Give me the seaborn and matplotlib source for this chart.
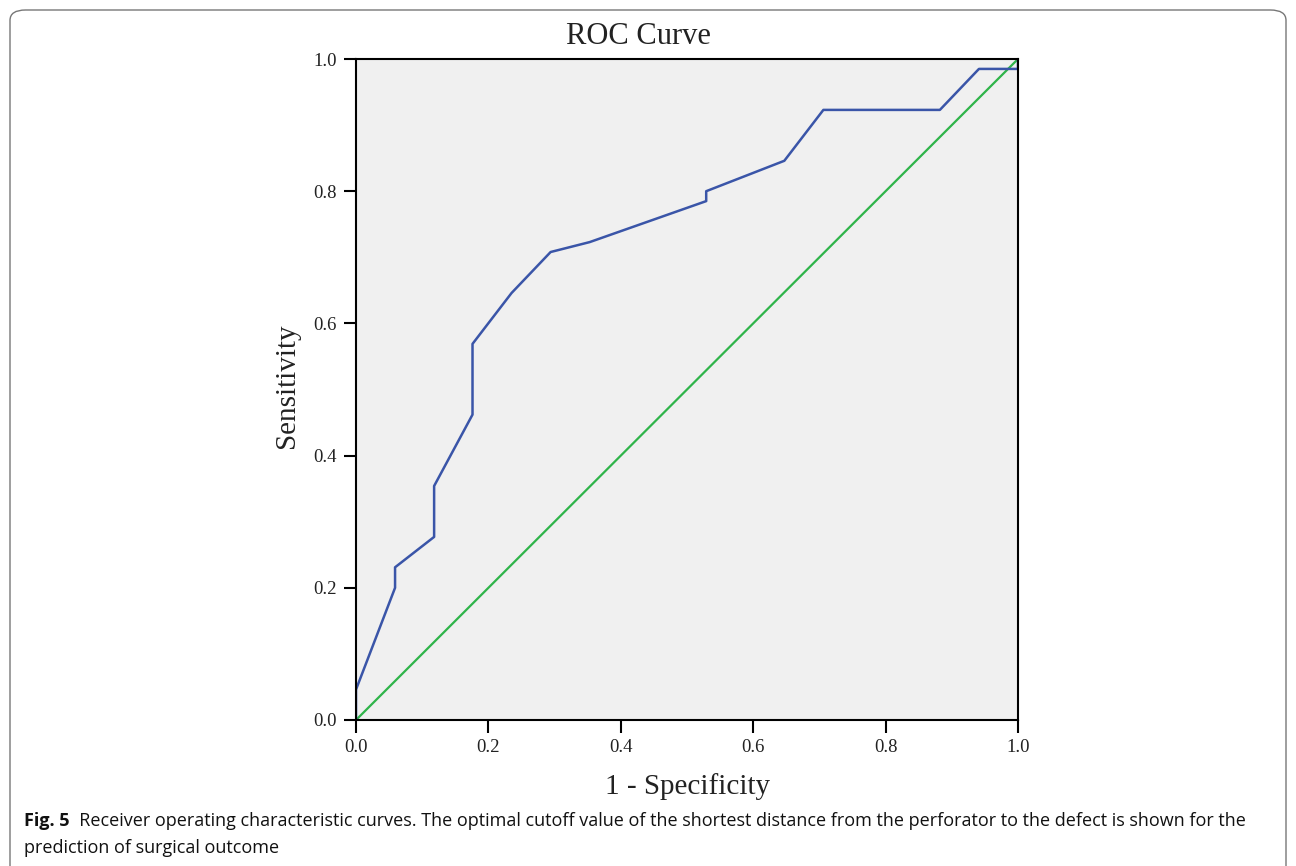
import numpy as np
import pandas as pd
import seaborn as sns
import matplotlib.pyplot as plt
from matplotlib.patches import FancyBboxPatch

# ROC curve points (1 - specificity, sensitivity)
fpr = [0.0, 0.0, 0.059, 0.059, 0.118, 0.118, 0.176, 0.176, 0.235, 0.294,
       0.353, 0.529, 0.529, 0.647, 0.706, 0.882, 0.941, 1.0, 1.0]
tpr = [0.0, 0.046, 0.2, 0.231, 0.277, 0.354, 0.462, 0.569, 0.646, 0.708,
       0.723, 0.785, 0.8, 0.846, 0.923, 0.923, 0.985, 0.985, 1.0]
ref_line = [0.0, 1.0]
ticks = [0.0, 0.2, 0.4, 0.6, 0.8, 1.0]
tick_labels = ["0.0", "0.2", "0.4", "0.6", "0.8", "1.0"]

title = "ROC Curve"
xlabel = "1 - Specificity"
ylabel = "Sensitivity"
cap_bold = "Fig. 5"
cap_text = ("  Receiver operating characteristic curves. The optimal cutoff value of the shortest distance "
            "from the perforator to the defect is shown for the")
cap_text2 = "prediction of surgical outcome"

sns.set_theme(style="ticks")
plt.rcParams["font.family"] = ["Liberation Serif", "DejaVu Serif"]

W, H = 1296, 866
fig = plt.figure(figsize=(W / 100, H / 100), dpi=100)

# rounded frame around the figure panel
frame = FancyBboxPatch((10 / W, -20 / H), 1276 / W, 876 / H,
                       boxstyle="round,pad=0,rounding_size=0.012",
                       transform=fig.transFigure, facecolor="none",
                       edgecolor="#777777", linewidth=1.0)
fig.patches.append(frame)

ax = fig.add_axes([356 / W, 1 - 720 / H, 662 / W, 661 / H])
ax.set_facecolor("#f0f0f0")

curve = pd.DataFrame({"fpr": fpr, "tpr": tpr})
diag = pd.DataFrame({"x": ref_line, "y": ref_line})
sns.lineplot(data=diag, x="x", y="y", ax=ax, color="#2fb44a", lw=1.6,
             sort=False, estimator=None)
sns.lineplot(data=curve, x="fpr", y="tpr", ax=ax, color="#3a55a8", lw=1.8,
             sort=False, estimator=None)

ax.set_xlim(0, 1)
ax.set_ylim(0, 1)
ax.set_xticks(ticks)
ax.set_xticklabels(tick_labels)
ax.set_yticks(ticks)
ax.set_yticklabels(tick_labels)
ax.tick_params(direction="out", length=9, width=1.5, color="black",
               labelsize=13.5, pad=5, labelcolor="#222222")
for s in ax.spines.values():
    s.set_color("black")
    s.set_linewidth(1.5)
ax.set_xlabel("")
ax.set_ylabel("")

fig.text(638 / W, 1 - 37 / H, title, ha="center", va="center", fontsize=22,
         color="#222222")
fig.text(688 / W, 1 - 787 / H, xlabel, ha="center", va="center", fontsize=21,
         color="#222222")
fig.text(287 / W, 1 - 386 / H, ylabel, ha="center", va="center", fontsize=21,
         rotation=90, color="#222222")

# caption
cap_font = ["Open Sans", "DejaVu Sans"]
t1 = fig.text(24 / W, 1 - 821 / H, cap_bold, ha="left", va="center",
              fontsize=13, fontweight="bold", family=cap_font, color="#111111")
fig.canvas.draw()
bb = t1.get_window_extent(fig.canvas.get_renderer())
fig.text(bb.x1 / W, 1 - 821 / H, cap_text, ha="left", va="center",
         fontsize=13, family=cap_font, color="#111111")
fig.text(24 / W, 1 - 848 / H, cap_text2, ha="left", va="center",
         fontsize=13, family=cap_font, color="#111111")

fig.savefig("out.png", dpi=100)
